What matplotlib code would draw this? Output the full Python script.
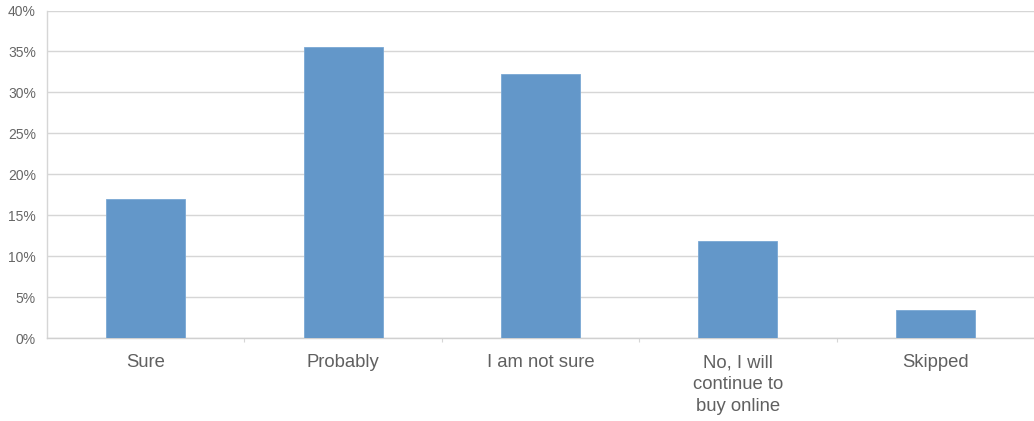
import numpy as np
import matplotlib.pyplot as plt
from matplotlib.ticker import FixedLocator

categories = ["Sure", "Probably", "I am not sure", "No, I will\ncontinue to\nbuy online", "Skipped"]
shares = [17.0, 35.6, 32.3, 11.9, 3.4]
y_ticks = [0, 5, 10, 15, 20, 25, 30, 35, 40]

plt.rcParams["font.family"] = ["Liberation Sans", "DejaVu Sans"]

fig = plt.figure(figsize=(10.34, 4.21), dpi=100)
ax = fig.add_axes([0.0455, 0.197, 0.9545, 0.778])

x = np.arange(len(categories))
ax.bar(x, shares, width=0.4, color="#6397c9", edgecolor="#7aa8d4", linewidth=0.6, zorder=3)

ax.set_xlim(-0.5, len(categories) - 0.5)
ax.set_ylim(0, 40)
ax.set_yticks(y_ticks)
ax.set_yticklabels([f"{t}%" for t in y_ticks])
ax.set_xticks(x)
ax.set_xticklabels(categories, va="top", linespacing=1.4)
ax.xaxis.set_minor_locator(FixedLocator(x[:-1] + 0.5))

ax.grid(axis="y", color="#d6d6d6", linewidth=1.0, zorder=0)
for side in ("top", "right"):
    ax.spines[side].set_visible(False)
ax.spines["left"].set_color("#d6d6d6")
ax.spines["bottom"].set_color("#d0d0d0")
ax.spines["left"].set_linewidth(1.0)
ax.spines["bottom"].set_linewidth(1.0)

ax.tick_params(axis="y", length=0, pad=8, labelsize=10, labelcolor="#666666")
ax.tick_params(axis="x", which="major", length=0, pad=11.5, labelsize=13.3, labelcolor="#606060")
ax.tick_params(axis="x", which="minor", length=3, width=0.8, color="#d6d6d6")

fig.savefig("out.png", dpi=100)
